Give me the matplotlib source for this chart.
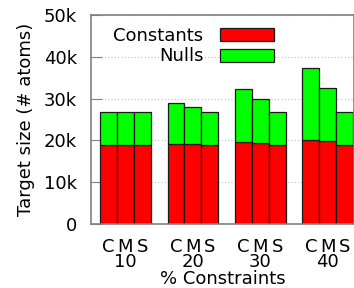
import matplotlib
matplotlib.use('Agg')
import matplotlib.pyplot as plt
import numpy as np

groups = ['10', '20', '30', '40']
modes = ['C', 'M', 'S']
# red part (constants) and total height, per group, per mode C/M/S
constants = [[18900, 18900, 18900],
             [19200, 19200, 19000],
             [19500, 19400, 19000],
             [20100, 19900, 19000]]
totals = [[26800, 26800, 26800],
          [28900, 28100, 26800],
          [32200, 29800, 26800],
          [37300, 32500, 26800]]

plt.rcParams['font.family'] = 'DejaVu Sans'
plt.rcParams['font.size'] = 13

fig = plt.figure(figsize=(3.54, 2.88), dpi=100)
ax = fig.add_axes([91 / 354, 1 - 224 / 288, 1 - 91 / 354, 209 / 288])

w = 0.25
offsets = [-w, 0, w]
positions = []
labels = []
for gi in range(len(groups)):
    for mi in range(len(modes)):
        x = gi + offsets[mi]
        c = constants[gi][mi]
        n = totals[gi][mi] - c
        ax.bar(x, c, w, color='#ff0000', edgecolor='#1a1a1a', linewidth=0.9, zorder=2,
               label='Constants' if gi == 0 and mi == 0 else None)
        ax.bar(x, n, w, bottom=c, color='#00ff00', edgecolor='#1a1a1a', linewidth=0.9, zorder=2,
               label='Nulls' if gi == 0 and mi == 0 else None)
        positions.append(x)
        labels.append(modes[mi])

ax.set_xlim(-0.51, 3.39)
ax.set_ylim(0, 50000)
ax.set_yticks(np.arange(0, 50001, 10000))
ax.set_yticklabels(['0', '10k', '20k', '30k', '40k', '50k'])
ax.set_xticks(positions)
ax.set_xticklabels(labels)
ax.tick_params(axis='x', length=0, pad=10)
ax.tick_params(axis='y', direction='in', length=8, color='#808080', pad=10)
ax.yaxis.grid(True, linestyle=(0, (1, 2)), color='#c0c0c0', linewidth=0.8, zorder=0)
ax.set_axisbelow(True)
for s in ax.spines.values():
    s.set_color('#808080')
    s.set_linewidth(1.2)

# group labels under the C M S letters
for gi, g in enumerate(groups):
    ax.text(gi, -38 / 209, g, transform=ax.get_xaxis_transform(),
            ha='center', va='center')

ax.set_xlabel('% Constraints')
ax.xaxis.set_label_coords(0.5, -46 / 209)
ax.set_ylabel('Target size (# atoms)')
ax.yaxis.set_label_coords(-56 / 263, 0.5)

leg = ax.legend(loc='upper right', bbox_to_anchor=(0.74, 1.0), frameon=False,
                markerfirst=False, handlelength=3.0, handleheight=0.75,
                labelspacing=0.15, handletextpad=0.9, borderaxespad=0.25)
for t in leg.get_texts():
    t.set_ha('right')

fig.savefig('out.png', dpi=100)
